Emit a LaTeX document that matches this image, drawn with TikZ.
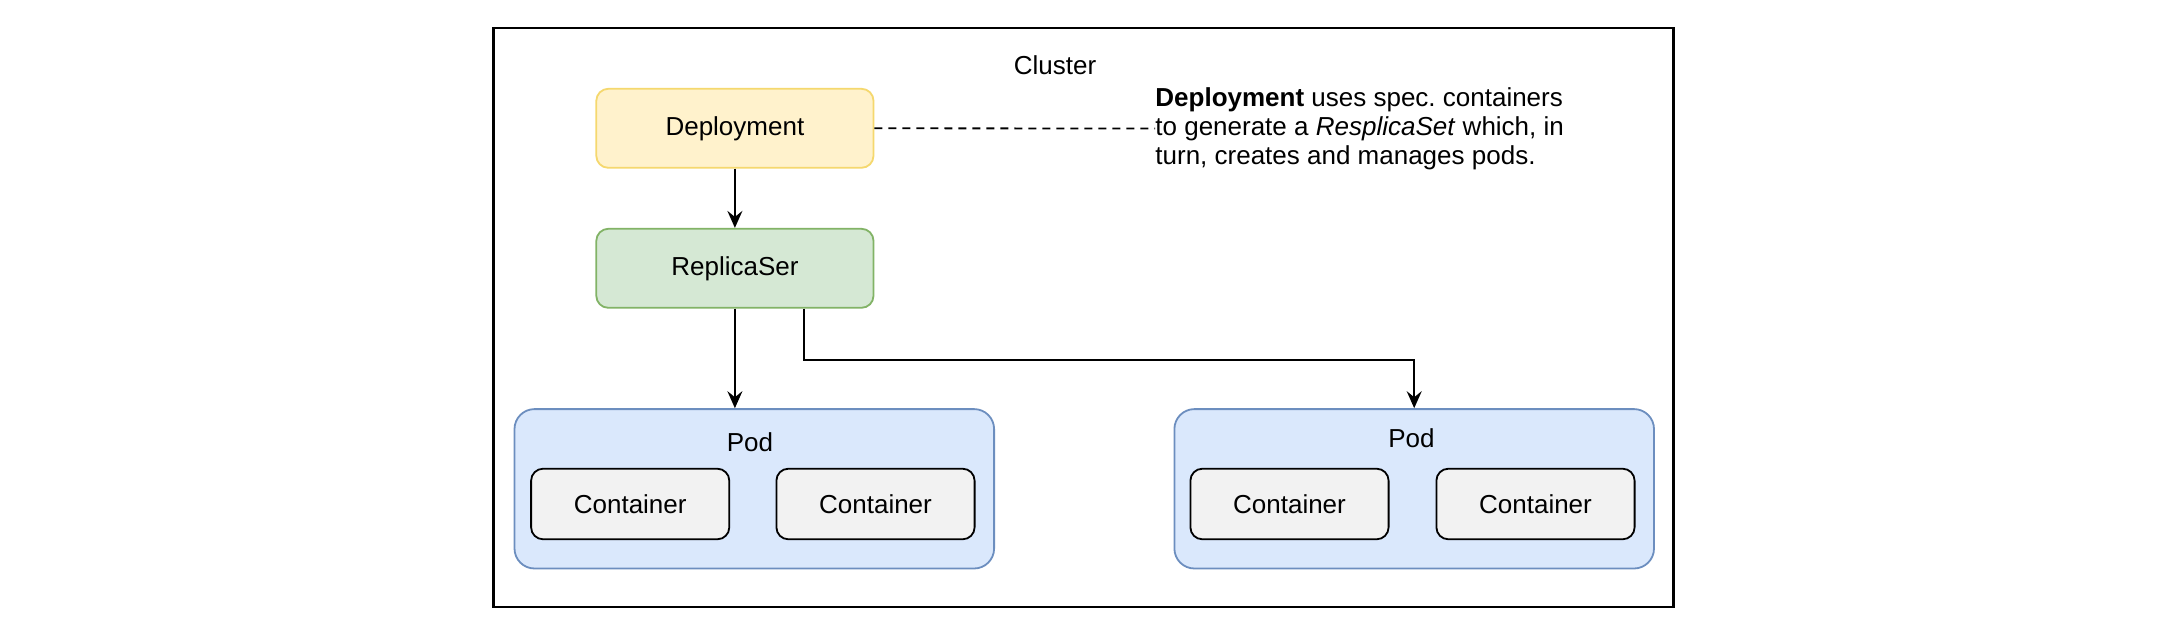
\documentclass[tikz,border=0pt]{standalone}
\usepackage{fontspec}
\setmainfont{Liberation Sans}
\usetikzlibrary{arrows.meta,calc}
\definecolor{depfill}{HTML}{FFF2CC}
\definecolor{depdraw}{HTML}{F5D86E}
\definecolor{rsfill}{HTML}{D5E8D4}
\definecolor{rsdraw}{HTML}{82B366}
\definecolor{podfill}{HTML}{DAE8FC}
\definecolor{poddraw}{HTML}{6C8EBF}
\definecolor{cfill}{HTML}{F2F2F2}
\frenchspacing
\tikzset{
  every node/.style={font=\fontsize{13}{14.6}\selectfont},
  box/.style={rectangle, rounded corners=6pt, line width=0.9pt, minimum width=138.6pt, minimum height=39.5pt, inner sep=0pt},
  depbox/.style={box, fill=depfill, draw=depdraw},
  rsbox/.style={box, fill=rsfill, draw=rsdraw},
  podbox/.style={rectangle, rounded corners=10pt, line width=0.9pt, fill=podfill, draw=poddraw, minimum width=239.8pt, minimum height=79.7pt, inner sep=0pt},
  contbox/.style={rectangle, rounded corners=6pt, line width=0.9pt, fill=cfill, draw=black, minimum width=99.1pt, minimum height=35.3pt, inner sep=0pt},
  arr/.style={line width=0.9pt, -{Stealth[length=8.5pt,width=7.5pt,inset=3pt]}},
}
\begin{document}
\begin{tikzpicture}[x=0.5pt,y=-0.5pt]
\useasboundingbox (0,0) rectangle (2174,642);
\fill[white] (0,0) rectangle (2174,642);
\node[rectangle, draw=black, line width=1.1pt, minimum width=590pt, minimum height=289.8pt, inner sep=0pt] (cluster) at (1083.5,317.5) {};
\node (clabel) at (1055,65) {Cluster};
\node[depbox] (dep) at (734.9,128.3) {Deployment};
\node[rsbox] (rs) at (734.9,268.3) {ReplicaSer};
\node[anchor=west, align=left, inner sep=0pt] (desc) at (1155,128.5) {\textbf{Deployment} uses spec. containers\\to generate a \textit{ResplicaSet} which, in\\turn, creates and manages pods.};
\node[podbox] (pod1) at (754.3,488.8) {};
\node (pod1l) at (750,442.3) {Pod};
\node[contbox] (c11) at (630.2,504) {Container};
\node[contbox] (c12) at (875.5,504) {Container};
\node[podbox] (pod2) at (1414.2,488.8) {};
\node (pod2l) at (1411.5,438) {Pod};
\node[contbox] (c21) at (1289.5,504) {Container};
\node[contbox] (c22) at (1535.5,504) {Container};
\draw[arr] (dep.south) -- (rs.north);
\draw[line width=0.9pt, dash pattern=on 4pt off 3pt] (dep.east) -- (desc.west);
\draw[arr] (rs.south) -- (rs.south |- pod1.north);
\coordinate (rs2) at ([xshift=34.5pt]rs.south);
\draw[arr] (rs2) -- ++(0,51.2) -| (pod2.north);
\end{tikzpicture}
\end{document}
